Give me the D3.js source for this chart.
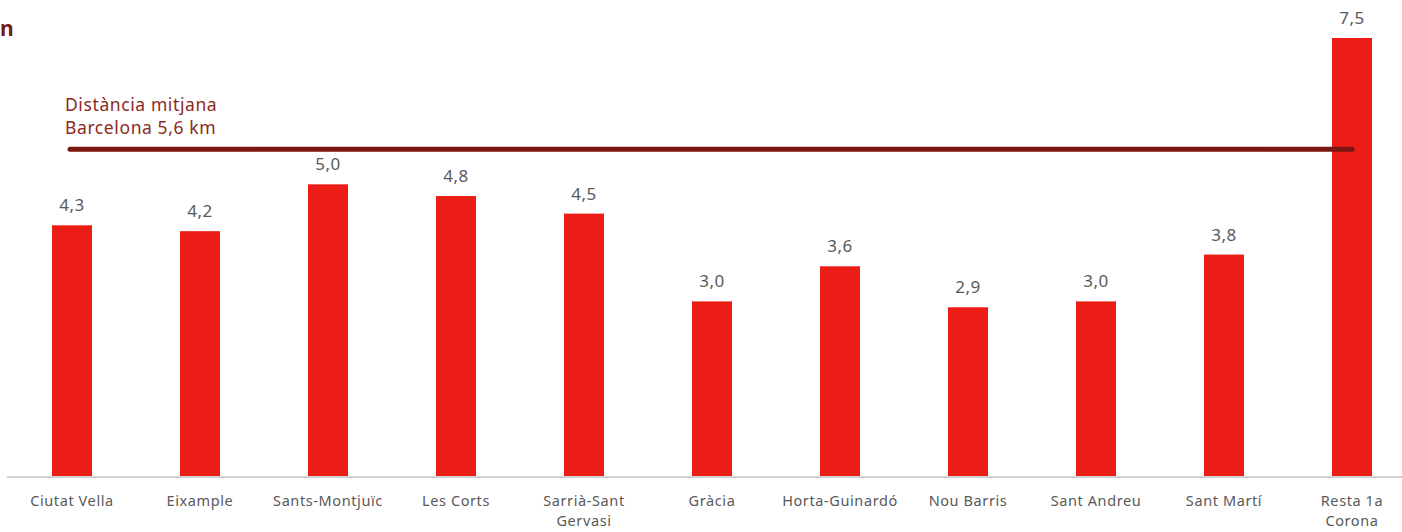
<!DOCTYPE html>
<html><head><meta charset="utf-8">
<script src="https://cdn.jsdelivr.net/npm/d3@7"></script>
<style>body{margin:0;background:#fff;overflow:hidden}svg{display:block}</style>
</head><body><svg id="c" width="1402" height="532"></svg>
<script>
const categories = ["Ciutat Vella","Eixample","Sants-Montjuïc","Les Corts","Sarrià-Sant Gervasi","Gràcia","Horta-Guinardó","Nou Barris","Sant Andreu","Sant Martí","Resta 1a Corona"];
const labelLines = [["Ciutat Vella"],["Eixample"],["Sants-Montjuïc"],["Les Corts"],["Sarrià-Sant","Gervasi"],["Gràcia"],["Horta-Guinardó"],["Nou Barris"],["Sant Andreu"],["Sant Martí"],["Resta 1a","Corona"]];
const values = [4.3,4.2,5.0,4.8,4.5,3.0,3.6,2.9,3.0,3.8,7.5];
const meanValue = 5.6;
const annotation = ["Distància mitjana","Barcelona 5,6 km"];

const svg = d3.select("#c");
const font = "'Noto Sans', sans-serif";
const x = d3.scaleBand().domain(categories).range([8,1416]).paddingInner(0.6875).paddingOuter(0.34375);
const y = d3.scaleLinear().domain([0,7.5]).range([477,38]);

// title fragment (cut off at left in the original)
svg.append("text").attr("x",0).attr("y",36)
  .attr("font-family",font).attr("font-size",21).attr("font-weight",700).attr("fill","#7a1a14").text("n");

// bars
svg.selectAll("rect.bar").data(values).join("rect").attr("class","bar")
  .attr("x",(d,i)=>x(categories[i])).attr("width",x.bandwidth())
  .attr("y",d=>y(d)).attr("height",d=>y(0)-y(d)).attr("fill","#ec1c17");

// value labels
const fmt = d => d.toFixed(1).replace(".",",");
svg.selectAll("text.val").data(values).join("text").attr("class","val")
  .attr("x",(d,i)=>x(categories[i])+x.bandwidth()/2).attr("y",d=>y(d)-14)
  .attr("text-anchor","middle").attr("font-family",font).attr("font-size",17)
  .attr("letter-spacing",0.5).attr("fill","#595959").text(fmt);

// axis baseline
const xAxis = d3.axisBottom(x).tickSize(0).tickFormat("");
const ax = svg.append("g").attr("transform",`translate(0,${y(0)})`).call(xAxis);
ax.select(".domain").attr("stroke","#d0d0d0").attr("stroke-width",2).attr("d","M7,0H1402");

// category labels (one text per line)
categories.forEach((c,i)=>{
  const cx = x(c)+x.bandwidth()/2;
  labelLines[i].forEach((l,j)=>svg.append("text").attr("x",cx).attr("y",506+j*20)
    .attr("text-anchor","middle").attr("font-family",font).attr("font-size",14.5)
    .attr("letter-spacing",0.6).attr("fill","#595959").text(l));
});

// mean line
const x0 = x(categories[0])+x.bandwidth()/2 - 2;
const x1 = x(categories[categories.length-1])+x.bandwidth()/2;
svg.append("line").attr("x1",x0).attr("x2",x1).attr("y1",y(meanValue)).attr("y2",y(meanValue))
  .attr("stroke","#7a1510").attr("stroke-width",5).attr("stroke-linecap","round");

// annotation
annotation.forEach((l,j)=>svg.append("text").attr("x",65).attr("y",111+j*23)
  .attr("font-family",font).attr("font-size",17.5).attr("letter-spacing",0.6)
  .attr("fill","#8b2a22").text(l));
</script></body></html>
